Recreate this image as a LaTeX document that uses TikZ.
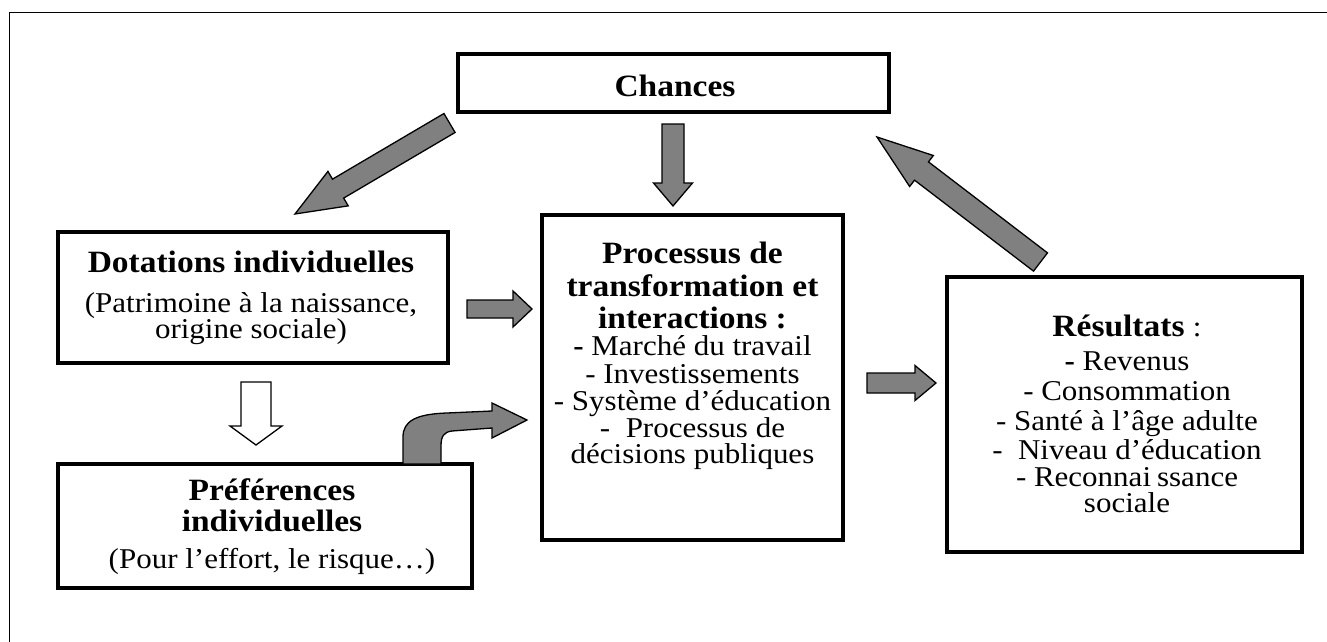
\documentclass[tikz,border=0pt]{standalone}
\usepackage{fontspec}
\setmainfont{Liberation Serif}[FakeStretch=1.08]
\usetikzlibrary{calc}
\definecolor{arrgray}{RGB}{128,128,128}
\newcommand{\bfnt}{\fontsize{31}{31}\selectfont\bfseries}
\newcommand{\rfnt}{\fontsize{28.7}{27}\selectfont}
% #1 style, #2 tail, #3 tip, #4 half shaft width, #5 half head width, #6 head length
\newcommand{\blockarrow}[6]{%
  \coordinate (ba-B) at ($(#3)!#6!(#2)$);
  \draw[#1] ($(#2)!#4!90:(#3)$) -- ($(ba-B)!#4!90:(#3)$) -- ($(ba-B)!#5!90:(#3)$) -- (#3)
    -- ($(ba-B)!#5!-90:(#3)$) -- ($(ba-B)!#4!-90:(#3)$) -- ($(#2)!#4!-90:(#3)$) -- cycle;
}
\tikzset{
  box/.style={draw, rectangle, line width=3.5pt, inner sep=0pt},
  blk/.style={draw, fill=arrgray, line width=1.3pt, line join=miter},
  hollow/.style={draw, fill=white, line width=1.3pt, line join=miter},
  lbl/.style={anchor=base, inner sep=0pt},
  frame/.style={line width=1.3pt}
}
\begin{document}
\begin{tikzpicture}[x=1pt,y=-1pt]
\useasboundingbox (0,0) rectangle (1327,642);
\draw[frame] (1327,12.5) -- (9.5,12.5) -- (9.5,642);

% boxes
\node[box, minimum width=431pt, minimum height=58pt] (chances) at (673.5,83) {};
\node[box, minimum width=390pt, minimum height=131pt] (dot) at (253,297.5) {};
\node[box, minimum width=414pt, minimum height=124pt] (pref) at (265,526) {};
\node[box, minimum width=301pt, minimum height=325pt] (proc) at (692.5,377.5) {};
\node[box, minimum width=355pt, minimum height=275pt] (res) at (1124.5,414.5) {};

% texts
\node[lbl] (chances-t) at (675,96) {\bfnt Chances};

\foreach \yy/\txt [count=\i] in {272/{\bfnt Dotations individuelles},
  312/{\rfnt (Patrimoine à la naissance,},
  338/{\rfnt origine sociale)}}
  \node[lbl] (dot-\i) at (251,\yy) {\txt};

\foreach \yy/\txt [count=\i] in {500/{\bfnt Préférences},
  531/{\bfnt individuelles},
  568/{\rfnt (Pour l’effort, le risque…)}}
  \node[lbl] (pref-\i) at (272,\yy) {\txt};

\foreach \yy/\txt [count=\i] in {263/{\bfnt Processus de},
  296/{\bfnt transformation et},
  328/{\bfnt interactions :},
  355/{\rfnt\textbf{-} Marché du travail},
  383/{\rfnt - Investissements},
  410/{\rfnt - Système d’éducation},
  437/{\rfnt -\ \ Processus de},
  463/{\rfnt décisions publiques}}
  \node[lbl] (proc-\i) at (692.5,\yy) {\txt};

\foreach \yy/\txt [count=\i] in {336/{\bfnt Résultats \rfnt\mdseries:},
  370/{\rfnt\textbf{-} Revenus},
  400/{\rfnt - Consommation},
  430/{\rfnt - Santé à l’âge adulte},
  459/{\rfnt -\ \ Niveau d’éducation},
  486/{\rfnt - Reconnai\kern6pt ssance},
  512/{\rfnt sociale}}
  \node[lbl] (res-\i) at (1127,\yy) {\txt};

% arrows
\coordinate (a1t) at (449.5,123); \coordinate (a1h) at (295,214);
\blockarrow{blk}{a1t}{a1h}{11pt}{20pt}{50pt}
\coordinate (a2t) at (673,124); \coordinate (a2h) at (673,206);
\blockarrow{blk}{a2t}{a2h}{11pt}{19.5pt}{23pt}
\coordinate (a3t) at (1040.5,262); \coordinate (a3h) at (877,137);
\blockarrow{blk}{a3t}{a3h}{11.5pt}{19.5pt}{56pt}
\coordinate (a4t) at (467,309); \coordinate (a4h) at (532,309);
\blockarrow{blk}{a4t}{a4h}{9pt}{18pt}{19pt}
\coordinate (a5t) at (867,383); \coordinate (a5h) at (936,383);
\blockarrow{blk}{a5t}{a5h}{10pt}{17.5pt}{21pt}
\coordinate (a6t) at (256,382); \coordinate (a6h) at (256,445);
\blockarrow{hollow}{a6t}{a6h}{15pt}{26pt}{19pt}

% bent arrow from preferences to processus
\draw[blk] (403,464) -- (403,437) .. controls (403,421) and (416,414) .. (447,413)
  -- (492,411) -- (492,403) -- (527,420) -- (492,438) -- (492,428)
  -- (452,431) .. controls (444,432) and (441,436) .. (441,446) -- (441,464) -- cycle;
\end{tikzpicture}
\end{document}
